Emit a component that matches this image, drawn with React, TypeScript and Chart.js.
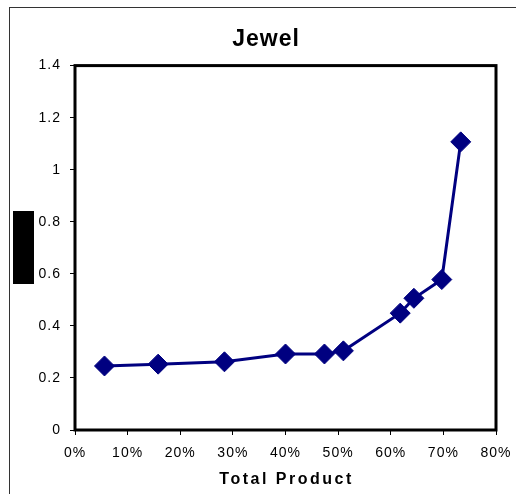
import React, { useEffect, useRef } from 'react';
import { Chart, registerables } from 'chart.js';

Chart.register(...registerables);

// Total Product share (%) and the value plotted for each point
const totalProduct = [5.6, 15.8, 28.4, 40.0, 47.4, 51.0, 61.8, 64.4, 69.7, 73.3];
const jewelValues = [0.246, 0.253, 0.262, 0.292, 0.292, 0.304, 0.449, 0.506, 0.578, 1.107];

const chartTitle = 'Jewel';
const xAxisTitle = 'Total Product';

const FONT = 'Arial, "Liberation Sans", sans-serif';
const NAVY = '#000080';

const excelLook = {
  id: 'excelLook',
  beforeDraw(chart: any) {
    chart.ctx.letterSpacing = '1px';
  },
  afterDraw(chart: any) {
    const { ctx, chartArea } = chart;
    const { left, top, right, bottom } = chartArea;
    ctx.save();
    ctx.strokeStyle = '#000';
    ctx.lineWidth = 3;
    ctx.strokeRect(left, top, right - left, bottom - top);

    ctx.letterSpacing = '2.5px';
    ctx.fillStyle = '#000';
    ctx.font = `bold 16px ${FONT}`;
    ctx.textAlign = 'center';
    ctx.textBaseline = 'middle';
    ctx.fillText(xAxisTitle, (left + right) / 2 + 1, bottom + 50);
    ctx.restore();
    ctx.letterSpacing = '0px';
  },
};

const JewelChart: React.FC = () => {
  const canvasRef = useRef<HTMLCanvasElement>(null);
  const chartRef = useRef<Chart | null>(null);

  useEffect(() => {
    if (!canvasRef.current) return;
    if (chartRef.current) chartRef.current.destroy();

    chartRef.current = new Chart(canvasRef.current, {
      type: 'line',
      data: {
        datasets: [
          {
            label: chartTitle,
            data: totalProduct.map((x, i) => ({ x, y: jewelValues[i] })),
            borderColor: NAVY,
            backgroundColor: NAVY,
            borderWidth: 3,
            pointStyle: 'rectRot',
            pointRadius: 10,
            pointBackgroundColor: NAVY,
            pointBorderColor: NAVY,
            pointBorderWidth: 1,
            tension: 0,
          },
        ],
      },
      options: {
        responsive: false,
        animation: false,
        events: [],
        layout: { padding: { left: 16, right: 0, top: 8, bottom: 0 } },
        plugins: {
          legend: { display: false },
          tooltip: { enabled: false },
          title: {
            display: true,
            text: chartTitle,
            color: '#000',
            font: { family: FONT, size: 23, weight: 'bold' },
            padding: { top: 18, bottom: 12 },
          },
        },
        scales: {
          x: {
            type: 'linear',
            min: 0,
            max: 80,
            afterFit: (scale: any) => {
              scale.height = 64;
              scale.paddingRight = 20;
            },
            ticks: {
              stepSize: 10,
              color: '#000',
              padding: 10,
              font: { family: FONT, size: 14 },
              callback: (v: any) => `${v}%`,
            },
            grid: { drawOnChartArea: false, tickLength: 5, color: '#000' },
            border: { display: false },
          },
          y: {
            min: 0,
            max: 1.4,
            afterFit: (scale: any) => {
              scale.width = 59;
            },
            ticks: {
              stepSize: 0.2,
              color: '#000',
              padding: 9,
              font: { family: FONT, size: 14 },
              callback: (v: any) => String(Math.round(Number(v) * 10) / 10),
            },
            grid: { drawOnChartArea: false, tickLength: 5, color: '#000' },
            border: { display: false },
          },
        },
      },
      plugins: [excelLook],
    });

    return () => {
      if (chartRef.current) {
        chartRef.current.destroy();
        chartRef.current = null;
      }
    };
  }, []);

  return <canvas ref={canvasRef} width={516} height={494}></canvas>;
};

export default function App() {
  return (
    <div style={{ position: 'absolute', left: 0, top: 0, width: 516, height: 494, background: '#fff' }}>
      <JewelChart />
      <div
        style={{
          position: 'absolute',
          left: 9,
          top: 7,
          right: 0,
          bottom: 0,
          borderTop: '1px solid #333',
          borderLeft: '1px solid #333',
          pointerEvents: 'none',
        }}
      />
      <div style={{ position: 'absolute', left: 13, top: 211, width: 21, height: 73, background: '#000' }} />
    </div>
  );
}
